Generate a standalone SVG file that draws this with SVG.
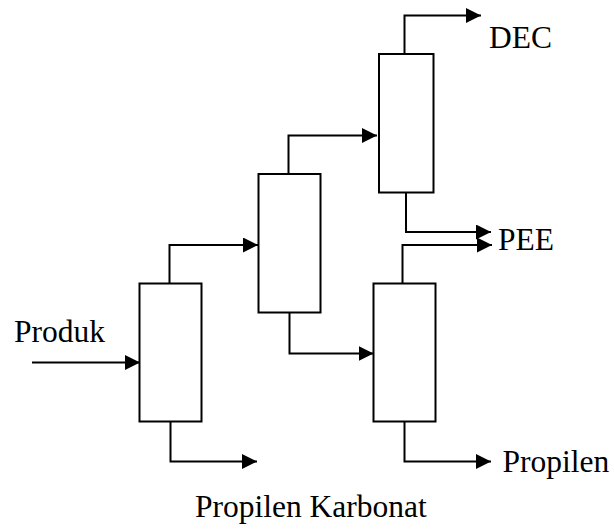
<svg xmlns="http://www.w3.org/2000/svg" width="614" height="529" viewBox="0 0 614 529">
  <style>
    .col { fill: #ffffff; stroke: #000000; stroke-width: 2; }
    .flow { fill: none; stroke: #000000; stroke-width: 2; marker-end: url(#arrow); }
    .lbl { font-family: "Liberation Serif", "Times New Roman", serif; font-size: 31.5px; fill: #000000; }
  </style>
  <defs>
    <marker id="arrow" markerUnits="userSpaceOnUse" markerWidth="15" markerHeight="15" refX="15" refY="7.5" orient="auto">
      <path d="M0,0 L15,7.5 L0,15 Z" fill="#000000"/>
    </marker>
  </defs>
  <rect width="614" height="529" fill="#ffffff"/>

  <!-- flow lines between columns -->
  <g id="connectors">
    <path class="flow" d="M32,362.5 H140"/>
    <path class="flow" d="M170.5,421.5 V461.5 H257"/>
    <path class="flow" d="M169.5,283.5 V245 H258"/>
    <path class="flow" d="M288.5,174 V135.5 H377"/>
    <path class="flow" d="M289.5,312.5 V353.5 H373.5"/>
    <path class="flow" d="M404.5,54 V15.5 H481"/>
    <path class="flow" d="M406,192.5 V232 H491"/>
    <path class="flow" d="M402.5,283.5 V245 H492"/>
    <path class="flow" d="M404.5,421.5 V461.5 H491"/>
  </g>

  <!-- distillation columns -->
  <g id="column1"><rect class="col" x="139.5" y="283.5" width="62" height="138"/></g>
  <g id="column2"><rect class="col" x="258.5" y="174" width="62" height="138.5"/></g>
  <g id="column3"><rect class="col" x="379" y="54" width="54.5" height="138.5"/></g>
  <g id="column4"><rect class="col" x="373.5" y="283.5" width="62" height="138"/></g>

  <!-- stream labels -->
  <g id="labels">
    <text class="lbl" x="14" y="341.5">Produk</text>
    <text class="lbl" x="489" y="48">DEC</text>
    <text class="lbl" x="498" y="250">PEE</text>
    <text class="lbl" x="502.5" y="471.5">Propilen</text>
    <text class="lbl" x="195" y="517">Propilen Karbonat</text>
  </g>
</svg>
